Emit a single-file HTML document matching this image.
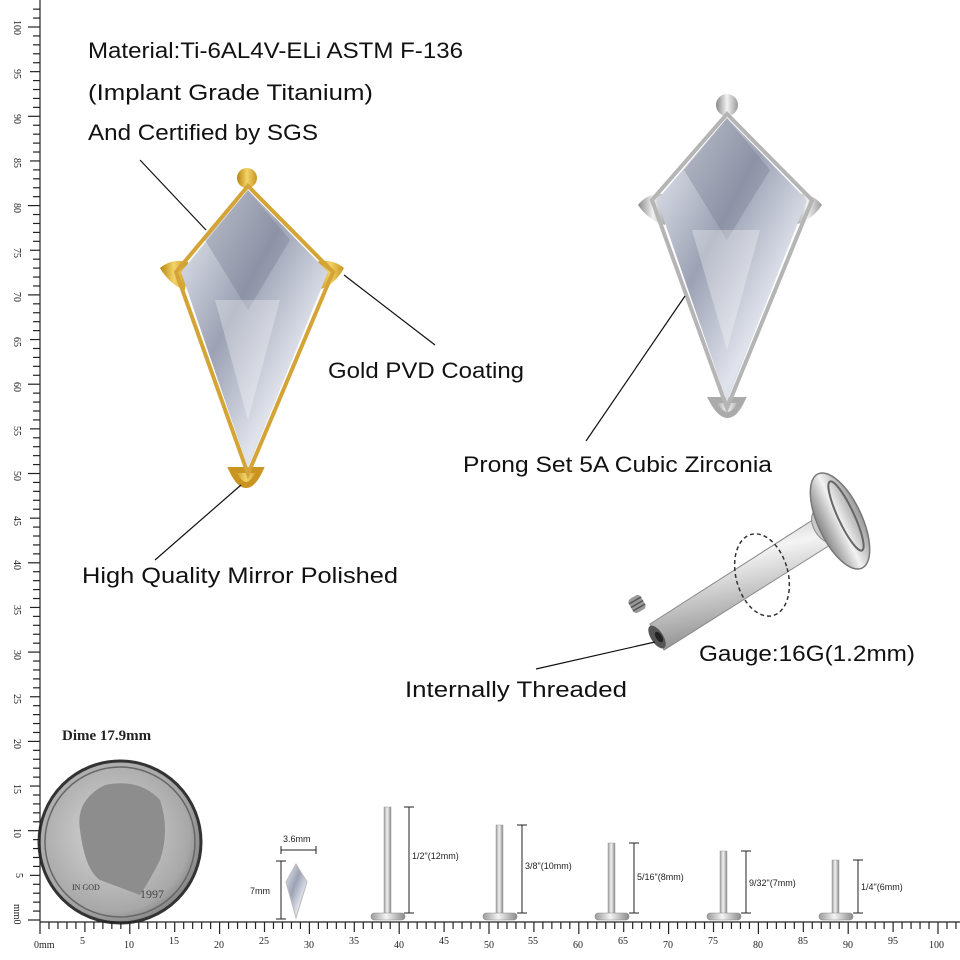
<!DOCTYPE html>
<html><head><meta charset="utf-8"><style>
html,body{margin:0;padding:0;background:#fff}
svg{display:block}
.lab{font-family:"Liberation Sans","DejaVu Sans",sans-serif;font-size:22px;fill:#111}
.rn{font-family:"Liberation Serif",serif;font-size:10px;fill:#222}
.sm{font-family:"Liberation Sans",sans-serif;font-size:9px;fill:#222}
</style></head><body>
<svg width="960" height="960" viewBox="0 0 960 960" xmlns="http://www.w3.org/2000/svg">
<defs>
<linearGradient id="gold" x1="0" x2="1"><stop offset="0" stop-color="#b8860b"/><stop offset=".5" stop-color="#f3d36a"/><stop offset="1" stop-color="#c99520"/></linearGradient>
<linearGradient id="silv" x1="0" x2="1"><stop offset="0" stop-color="#888"/><stop offset=".5" stop-color="#f2f2f2"/><stop offset="1" stop-color="#999"/></linearGradient>
<linearGradient id="gem" x1="0" y1="0" x2="1" y2="1"><stop offset="0" stop-color="#eef0f6"/><stop offset=".4" stop-color="#9ca2b4"/><stop offset=".7" stop-color="#e0e3ec"/><stop offset="1" stop-color="#c4c8d4"/></linearGradient>
<linearGradient id="bar" x1="0" y1="0" x2="0.3" y2="1"><stop offset="0" stop-color="#aaa"/><stop offset=".4" stop-color="#f4f4f4"/><stop offset="1" stop-color="#8a8a8a"/></linearGradient>
<linearGradient id="barv" x1="0" x2="1"><stop offset="0" stop-color="#999"/><stop offset=".45" stop-color="#f4f4f4"/><stop offset="1" stop-color="#8a8a8a"/></linearGradient>
<radialGradient id="dime" cx=".45" cy=".45" r=".6"><stop offset="0" stop-color="#d8d8d8"/><stop offset=".8" stop-color="#a8a8a8"/><stop offset="1" stop-color="#777"/></radialGradient>
</defs>

<!-- Gold gem -->
<g>
<circle cx="247" cy="178" r="10" fill="url(#gold)"/>
<path d="M160 268 Q172 258 188 262 L185 290 Q170 285 160 268Z" fill="url(#gold)"/>
<path d="M344 268 Q332 258 316 262 L318 290 Q335 285 344 268Z" fill="url(#gold)"/>
<path d="M232 470 Q246 500 260 470 Z" fill="url(#gold)" stroke="#c99520" stroke-width="6"/>
<polygon points="248,186 333,272 248,474 176,272" fill="none" stroke="#d4a437" stroke-width="4"/>
<polygon points="248,190 328,272 248,468 181,272" fill="url(#gem)"/>
<polygon points="248,190 290,240 248,310 205,240" fill="#6b7186" opacity=".3"/>
<polygon points="215,300 280,300 248,420" fill="#fff" opacity=".3"/>
</g>
<!-- Silver gem -->
<g>
<circle cx="727" cy="105" r="11" fill="url(#silv)"/>
<path d="M638 205 Q650 190 668 195 L665 225 Q648 220 638 205Z" fill="url(#silv)"/>
<path d="M822 205 Q810 190 792 195 L795 225 Q812 220 822 205Z" fill="url(#silv)"/>
<path d="M712 400 Q728 430 742 400 Z" fill="url(#silv)" stroke="#aaa" stroke-width="6"/>
<polygon points="727,114 812,200 727,408 652,200" fill="none" stroke="#b5b5b5" stroke-width="4"/>
<polygon points="727,118 807,200 727,402 657,200" fill="url(#gem)"/>
<polygon points="727,118 770,170 727,240 684,170" fill="#6b7186" opacity=".3"/>
<polygon points="692,230 760,230 727,350" fill="#fff" opacity=".3"/>
</g>

<!-- Labret -->
<g>
<polygon points="650,624 822,514 838,540 664,650" fill="url(#bar)" stroke="#888" stroke-width="1"/>
<ellipse cx="657" cy="637" rx="6" ry="13" transform="rotate(-33 657 637)" fill="#555"/>
<ellipse cx="659" cy="637" rx="3" ry="6" transform="rotate(-33 659 637)" fill="#222"/>
<ellipse cx="826" cy="526" rx="12" ry="19" transform="rotate(-33 826 526)" fill="#c8c8c8" stroke="#888"/>
<ellipse cx="840" cy="521" rx="22" ry="52" transform="rotate(-25 840 521)" fill="url(#silv)" stroke="#777" stroke-width="1.5"/>
<ellipse cx="846" cy="516" rx="8" ry="38" transform="rotate(-25 846 516)" fill="none" stroke="#666" stroke-width="2"/>
<ellipse cx="762" cy="575" rx="26" ry="42" transform="rotate(-15 762 575)" fill="none" stroke="#333" stroke-width="1.5" stroke-dasharray="4 3"/>
<g transform="rotate(-30 637 604)"><rect x="630" y="596" width="14" height="16" rx="4" fill="#999"/><path d="M630 600h14M630 604h14M630 608h14" stroke="#555" stroke-width="1.5"/></g>
</g>

<!-- leader lines -->
<g stroke="#111" stroke-width="1.2">
<line x1="140" y1="160" x2="206" y2="230"/>
<line x1="344" y1="275" x2="435" y2="345"/>
<line x1="241" y1="485" x2="155" y2="560"/>
<line x1="685" y1="296" x2="586" y2="441"/>
<line x1="536" y1="669" x2="655" y2="642"/>
</g>

<text class="lab" x="88" y="58" textLength="375" lengthAdjust="spacingAndGlyphs">Material:Ti-6AL4V-ELi ASTM F-136</text>
<text class="lab" x="88" y="100" textLength="285" lengthAdjust="spacingAndGlyphs">(Implant Grade Titanium)</text>
<text class="lab" x="88" y="140" textLength="230" lengthAdjust="spacingAndGlyphs">And Certified by SGS</text>
<text class="lab" x="328" y="378" textLength="196" lengthAdjust="spacingAndGlyphs">Gold PVD Coating</text>
<text class="lab" x="463" y="472" textLength="309" lengthAdjust="spacingAndGlyphs">Prong Set 5A Cubic Zirconia</text>
<text class="lab" x="82" y="583" textLength="316" lengthAdjust="spacingAndGlyphs">High Quality Mirror Polished</text>
<text class="lab" x="699" y="661" textLength="216" lengthAdjust="spacingAndGlyphs">Gauge:16G(1.2mm)</text>
<text class="lab" x="405" y="697" textLength="222" lengthAdjust="spacingAndGlyphs">Internally Threaded</text>
<text x="62" y="740" style="font-family:'Liberation Serif',serif;font-size:15px;font-weight:bold;fill:#222">Dime 17.9mm</text>

<!-- Dime -->
<circle cx="120" cy="842" r="81" fill="url(#dime)" stroke="#333" stroke-width="3"/>
<circle cx="120" cy="842" r="75" fill="none" stroke="#666" stroke-width="1.5"/>
<path d="M80 830 Q75 800 105 785 Q140 778 160 800 Q170 830 160 860 Q150 880 140 895 L100 880 Q85 870 80 830Z" fill="#8d8d8d"/>
<text x="72" y="890" style="font-family:'Liberation Serif',serif;font-size:8px;fill:#333">IN GOD</text>
<text x="140" y="898" style="font-family:'Liberation Serif',serif;font-size:12px;fill:#444">1997</text>

<!-- mini gem -->
<polygon points="296,864 307,882 296,918 286,882" fill="url(#gem)" stroke="#bbb"/>
<g stroke="#222" stroke-width="1"><line x1="281" y1="850" x2="316" y2="850"/><line x1="281" y1="846" x2="281" y2="854"/><line x1="316" y1="846" x2="316" y2="854"/>
<line x1="281" y1="861" x2="281" y2="919"/><line x1="276" y1="861" x2="286" y2="861"/><line x1="276" y1="919" x2="286" y2="919"/></g>
<text class="sm" x="283" y="842">3.6mm</text>
<text class="sm" x="250" y="894">7mm</text>

<!-- pins -->
<g>
<g><rect x="384" y="807" width="7" height="108" fill="url(#barv)" stroke="#999" stroke-width=".5"/><rect x="371" y="913" width="34" height="7" rx="3" fill="url(#barv)" stroke="#888" stroke-width=".5"/>
<g stroke="#222"><line x1="409" y1="807" x2="409" y2="913"/><line x1="404" y1="807" x2="414" y2="807"/><line x1="404" y1="913" x2="414" y2="913"/></g><text class="sm" x="412" y="859">1/2"(12mm)</text></g>
<g><rect x="496" y="825" width="7" height="90" fill="url(#barv)" stroke="#999" stroke-width=".5"/><rect x="483" y="913" width="34" height="7" rx="3" fill="url(#barv)" stroke="#888" stroke-width=".5"/>
<g stroke="#222"><line x1="522" y1="825" x2="522" y2="913"/><line x1="517" y1="825" x2="527" y2="825"/><line x1="517" y1="913" x2="527" y2="913"/></g><text class="sm" x="525" y="869">3/8"(10mm)</text></g>
<g><rect x="608" y="843" width="7" height="72" fill="url(#barv)" stroke="#999" stroke-width=".5"/><rect x="595" y="913" width="34" height="7" rx="3" fill="url(#barv)" stroke="#888" stroke-width=".5"/>
<g stroke="#222"><line x1="634" y1="843" x2="634" y2="913"/><line x1="629" y1="843" x2="639" y2="843"/><line x1="629" y1="913" x2="639" y2="913"/></g><text class="sm" x="637" y="880">5/16"(8mm)</text></g>
<g><rect x="720" y="851" width="7" height="64" fill="url(#barv)" stroke="#999" stroke-width=".5"/><rect x="707" y="913" width="34" height="7" rx="3" fill="url(#barv)" stroke="#888" stroke-width=".5"/>
<g stroke="#222"><line x1="746" y1="851" x2="746" y2="913"/><line x1="741" y1="851" x2="751" y2="851"/><line x1="741" y1="913" x2="751" y2="913"/></g><text class="sm" x="749" y="886">9/32"(7mm)</text></g>
<g><rect x="832" y="860" width="7" height="55" fill="url(#barv)" stroke="#999" stroke-width=".5"/><rect x="819" y="913" width="34" height="7" rx="3" fill="url(#barv)" stroke="#888" stroke-width=".5"/>
<g stroke="#222"><line x1="858" y1="860" x2="858" y2="913"/><line x1="853" y1="860" x2="863" y2="860"/><line x1="853" y1="913" x2="863" y2="913"/></g><text class="sm" x="861" y="890">1/4"(6mm)</text></g>
</g>

<!-- rulers -->
<g stroke="#222" stroke-width="1.2">
<line x1="40" y1="0" x2="40" y2="922"/>
<line x1="40" y1="922" x2="960" y2="922"/>
<g id="ticks"></g>
</g>
<g class="rn">
<text x="34" y="948">0mm</text><text x="80" y="944">5</text><text x="124" y="948">10</text><text x="169" y="944">15</text><text x="214" y="948">20</text><text x="259" y="944">25</text><text x="304" y="948">30</text><text x="349" y="944">35</text><text x="394" y="948">40</text><text x="439" y="944">45</text><text x="484" y="948">50</text><text x="528" y="944">55</text><text x="573" y="948">60</text><text x="618" y="944">65</text><text x="663" y="948">70</text><text x="708" y="944">75</text><text x="753" y="948">80</text><text x="798" y="944">85</text><text x="843" y="948">90</text><text x="888" y="944">95</text><text x="929" y="948">100</text>
</g>
<g class="rn">
<text transform="translate(14,904) rotate(90)">mm0</text>
<text transform="translate(16,873) rotate(90)">5</text>
<text transform="translate(14,828) rotate(90)">10</text>
<text transform="translate(14,784) rotate(90)">15</text>
<text transform="translate(14,739) rotate(90)">20</text>
<text transform="translate(14,694) rotate(90)">25</text>
<text transform="translate(14,650) rotate(90)">30</text>
<text transform="translate(14,605) rotate(90)">35</text>
<text transform="translate(14,560) rotate(90)">40</text>
<text transform="translate(14,516) rotate(90)">45</text>
<text transform="translate(14,471) rotate(90)">50</text>
<text transform="translate(14,426) rotate(90)">55</text>
<text transform="translate(14,382) rotate(90)">60</text>
<text transform="translate(14,337) rotate(90)">65</text>
<text transform="translate(14,292) rotate(90)">70</text>
<text transform="translate(14,248) rotate(90)">75</text>
<text transform="translate(14,203) rotate(90)">80</text>
<text transform="translate(14,158) rotate(90)">85</text>
<text transform="translate(14,114) rotate(90)">90</text>
<text transform="translate(14,69) rotate(90)">95</text>
<text transform="translate(14,20) rotate(90)">100</text>
</g>
</svg>
<script>
var g=document.getElementById('ticks'),s='';
for(var i=0;i<=102;i++){var x=40+i*8.98,L=i%10==0?12:(i%5==0?10:7);
if(x<=960)s+='<line x1="'+x+'" y1="922" x2="'+x+'" y2="'+(922+L)+'"/>';
var y=920-i*8.93;if(y>=0)s+='<line x1="40" y1="'+y+'" x2="'+(40-L)+'" y2="'+y+'"/>';}
g.innerHTML=s;
</script>
</body></html>
